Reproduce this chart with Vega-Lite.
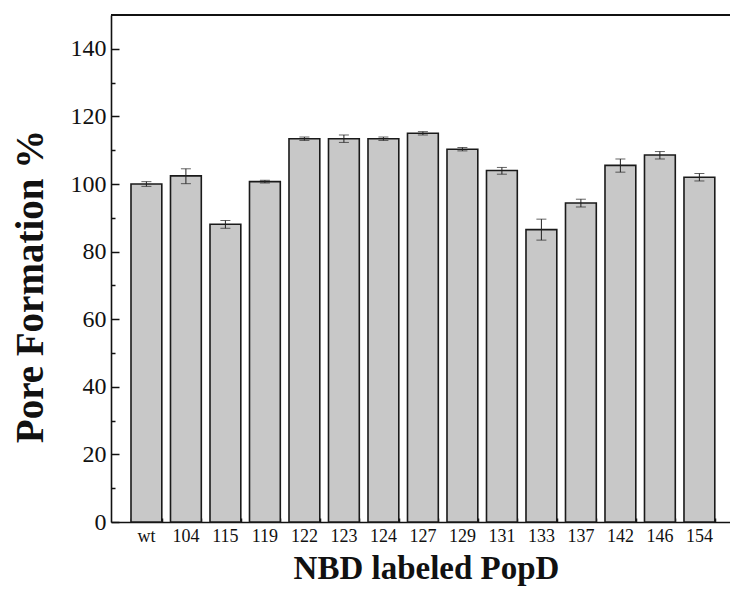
{
  "$schema": "https://vega.github.io/schema/vega-lite/v6.json",
  "width": 619,
  "height": 507,
  "autosize": {"type": "none"},
  "padding": {"left": 111, "top": 15, "right": 0, "bottom": 70},
  "background": "white",
  "config": {
    "view": {"stroke": null},
    "axis": {
      "grid": false,
      "domainColor": "#111",
      "domainWidth": 1.6,
      "tickColor": "#111",
      "tickWidth": 1.5,
      "labelFont": "Liberation Serif",
      "labelColor": "#111",
      "titleFont": "Liberation Serif",
      "titleFontWeight": "bold",
      "titleColor": "#111"
    }
  },
  "data": {
    "values": [
      {"mutant": "wt", "value": 100.0, "lo": 99.3, "hi": 100.7},
      {"mutant": "104", "value": 102.4, "lo": 100.1, "hi": 104.5},
      {"mutant": "115", "value": 88.1, "lo": 86.9, "hi": 89.2},
      {"mutant": "119", "value": 100.7, "lo": 100.3, "hi": 101.1},
      {"mutant": "122", "value": 113.4, "lo": 112.9, "hi": 113.9},
      {"mutant": "123", "value": 113.4, "lo": 112.3, "hi": 114.5},
      {"mutant": "124", "value": 113.4, "lo": 112.9, "hi": 113.9},
      {"mutant": "127", "value": 115.0, "lo": 114.5, "hi": 115.5},
      {"mutant": "129", "value": 110.3, "lo": 109.8, "hi": 110.8},
      {"mutant": "131", "value": 104.0, "lo": 102.9, "hi": 104.9},
      {"mutant": "133", "value": 86.5, "lo": 83.4, "hi": 89.6},
      {"mutant": "137", "value": 94.4, "lo": 93.2, "hi": 95.5},
      {"mutant": "142", "value": 105.5, "lo": 103.5, "hi": 107.4},
      {"mutant": "146", "value": 108.6, "lo": 107.4, "hi": 109.6},
      {"mutant": "154", "value": 102.0, "lo": 100.9, "hi": 103.1}
    ]
  },
  "resolve": {"axis": {"x": "independent", "y": "independent"}, "scale": {"x": "shared", "y": "shared"}},
  "layer": [
    {
      "mark": {"type": "bar", "fill": "#c8c8c8", "stroke": "#1a1a1a", "strokeWidth": 1.6},
      "encoding": {
        "x": {
          "field": "mutant", "type": "nominal", "sort": null,
          "scale": {"paddingInner": 0.22, "paddingOuter": 0.4456, "align": 0.568},
          "axis": {
            "orient": "bottom",
            "title": "NBD labeled PopD",
            "titleFontSize": 33,
            "titleX": 315,
            "titleY": 56,
            "titleAlign": "center",
            "titleBaseline": "alphabetic",
            "labelFontSize": 18,
            "labelAngle": 0,
            "labelPadding": 14,
            "tickSize": -9
          }
        },
        "y": {
          "field": "value", "type": "quantitative",
          "scale": {"domain": [0, 150], "nice": false, "zero": true},
          "axis": {
            "orient": "left",
            "title": "Pore Formation %",
            "titleFontSize": 39,
            "titleX": -81,
            "titleY": 271,
            "titleAlign": "center",
            "titleBaseline": "middle",
            "values": [0, 20, 40, 60, 80, 100, 120, 140],
            "labelFontSize": 24,
            "labelPadding": 13,
            "tickSize": -8
          }
        }
      }
    },
    {
      "mark": {"type": "rule", "color": "#222", "strokeWidth": 1},
      "encoding": {
        "x": {
          "field": "mutant", "type": "nominal", "sort": null,
          "axis": {"orient": "bottom", "labels": false, "domain": false, "title": null, "tickBand": "extent", "tickSize": -4}
        },
        "y": {
          "field": "lo", "type": "quantitative",
          "axis": {"orient": "left", "labels": false, "domain": false, "title": null, "values": [10, 30, 50, 70, 90, 110, 130], "tickSize": -4}
        },
        "y2": {"field": "hi"}
      }
    },
    {
      "mark": {"type": "tick", "color": "#222", "size": 10, "thickness": 1},
      "encoding": {
        "x": {"field": "mutant", "type": "nominal", "sort": null, "axis": null},
        "y": {"field": "lo", "type": "quantitative", "axis": null}
      }
    },
    {
      "mark": {"type": "tick", "color": "#222", "size": 10, "thickness": 1},
      "encoding": {
        "x": {"field": "mutant", "type": "nominal", "sort": null, "axis": null},
        "y": {"field": "hi", "type": "quantitative", "axis": null}
      }
    },
    {
      "mark": {"type": "rule", "color": "#111", "strokeWidth": 2},
      "encoding": {"y": {"datum": 150, "type": "quantitative", "axis": null}}
    }
  ]
}
